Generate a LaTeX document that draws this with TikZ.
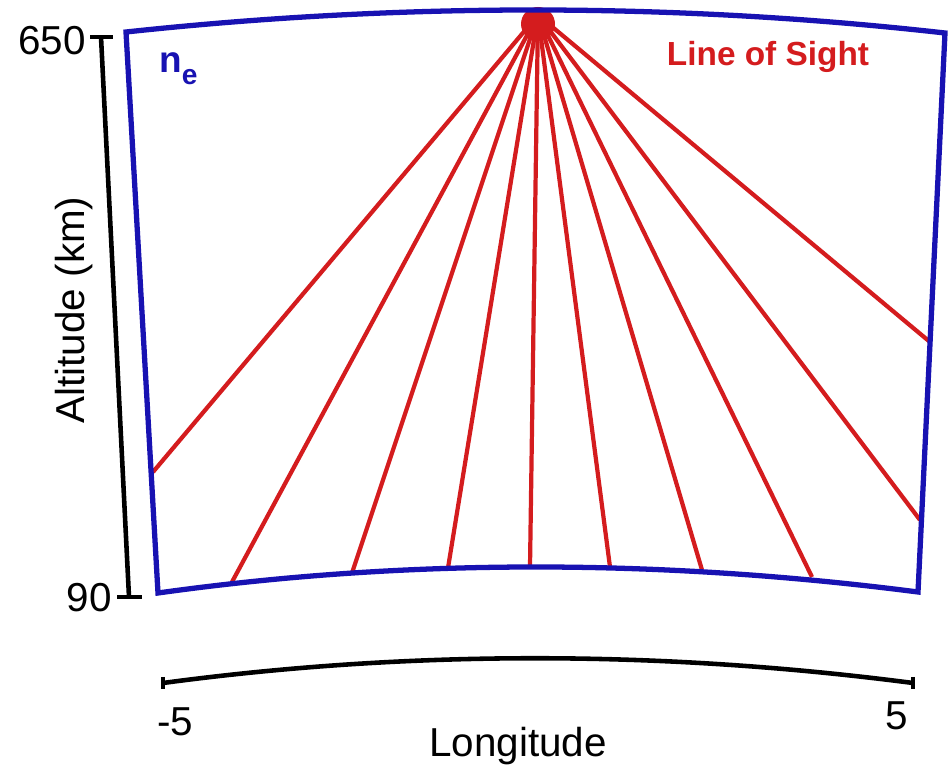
\documentclass[tikz,border=0pt]{standalone}
\usepackage{fontspec}
\setmainfont{Liberation Sans}
\usepackage{tikz}
\definecolor{boxblue}{RGB}{24,18,178}
\definecolor{losred}{RGB}{212,28,30}
\tikzset{
  boxline/.style={boxblue, line width=3pt, line join=miter},
  losline/.style={losred, line width=2.4pt},
  axisline/.style={black, line width=2.6pt},
  axislabel/.style={font=\fontsize{23}{26}\selectfont, inner sep=0pt}
}

\begin{document}
\begin{tikzpicture}[x=0.02cm, y=-0.02cm]
\useasboundingbox (0,0) rectangle (948,766);

% corners of the region
\coordinate (tl) at (126,32);
\coordinate (tr) at (945,33);
\coordinate (br) at (918,592);
\coordinate (bl) at (158,593);
\coordinate (apex) at (538,15);

% source of the lines of sight
\fill[losred] (538,24) circle (17);

% lines of sight
\foreach \px/\py [count=\i] in {153/472, 232/582, 352/573, 448/568, 530/567,
                                610/567, 702/570, 812/577, 920/520, 930/342}
  \coordinate (los\i) at (\px,\py);
\foreach \i in {1,...,10}
  \draw[losline] (apex) -- (los\i);

\draw[boxline] (tl) .. controls (405,2) and (678,3) .. (tr) -- (br)
  .. controls (654,558) and (401,559) .. (bl) -- cycle;

% altitude axis
\coordinate (alttop) at (101,37);
\coordinate (altbot) at (129,597);
\draw[axisline] (alttop) -- (altbot);
\draw[axisline] (90,37) -- (113,37);
\draw[axisline] (117,597) -- (142,597);
\node[axislabel, anchor=east] (lab650) at (86,41) {650};
\node[axislabel, anchor=east] (lab90) at (112,598) {90};
\node[axislabel, rotate=90] (altlab) at (74,310) {Altitude (km)};

% longitude axis
\coordinate (lonleft) at (163,683);
\coordinate (lonright) at (913,683);
\draw[axisline] (lonleft) .. controls (409,650) and (659,650) .. (lonright);
\draw[axisline] (163,677) -- (163,689);
\draw[axisline] (913,677) -- (913,689);
\node[axislabel] (labm5) at (175,722) {-5};
\node[axislabel] (lab5) at (897,716) {5};
\node[axislabel] (lonlab) at (518,746) {Longitude};

% labels inside
\node[boxblue, anchor=base west, inner sep=0pt, font=\fontsize{21}{24}\selectfont\bfseries]
  (nelab) at (159,73) {n\raisebox{-0.3em}{\fontsize{16}{18}\selectfont e}};
\node[losred, inner sep=0pt, font=\fontsize{19}{22}\selectfont\bfseries]
  (loslab) at (768,57) {Line of Sight};
\end{tikzpicture}
\end{document}
